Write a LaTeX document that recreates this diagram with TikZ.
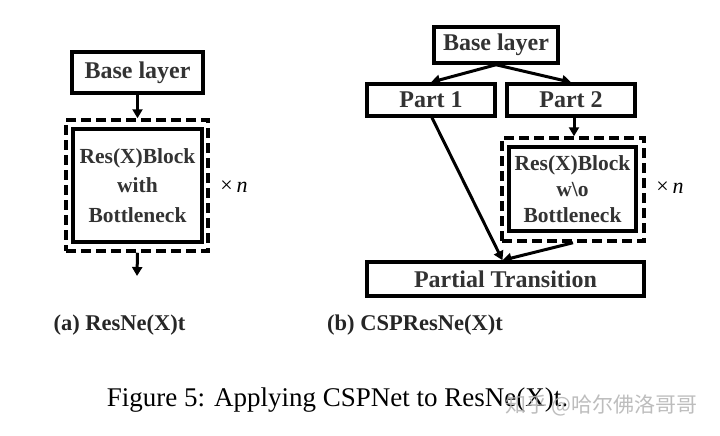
\documentclass[tikz,border=0pt]{standalone}
\usepackage{fontspec}
\setmainfont{Liberation Serif}
\newfontfamily\cjk{Noto Sans CJK SC}
\usetikzlibrary{arrows.meta,calc}
\tikzset{
 box/.style={draw=black, line width=3.5pt, inner sep=0pt, text=black!80, font=\bfseries\fontsize{24}{28}\selectfont},
 blockl/.style={box, align=center, font=\bfseries\fontsize{21.5}{29.5}\selectfont},
 blockr/.style={box, align=center, font=\bfseries\fontsize{21.5}{26}\selectfont},
 rep/.style={draw=black, line width=3.5pt, dash pattern=on 10pt off 5pt, inner sep=0pt},
 arr/.style={line width=3pt, -{Triangle[length=9pt,width=10pt]}},
 timesn/.style={font=\fontsize{22}{26}\selectfont, inner sep=0pt},
 sublabel/.style={font=\bfseries\fontsize{22.5}{26}\selectfont, text=black!85, inner sep=0pt},
 caption/.style={font=\fontsize{27}{30}\selectfont, inner sep=0pt},
 wmark/.style={font=\cjk\fontsize{21}{24}\selectfont, text=black!30, opacity=0.85, inner sep=0pt, anchor=west},
}
\begin{document}
\begin{tikzpicture}[x=1pt,y=-1pt]
\useasboundingbox[fill=white] (0,0) rectangle (720,436);
% (a)
\node[box, minimum width=131pt, minimum height=41pt] (lbase) at (137.5,72.5) {Base layer};
\node[rep, minimum width=142pt, minimum height=131pt] (ldash) at (137,185.5) {};
\node[blockl, minimum width=129pt, minimum height=113pt] (lblock) at (137.5,185.5) {Res(X)Block\\with\\Bottleneck};
\node[timesn] (ln) at (234,187) {×\,\itshape n};
\coordinate (lout) at (137,276);
\draw[arr] (lbase.south) -- (lbase.south |- ldash.north);
\draw[arr] (ldash.south -| lbase.south) -- (lout);
\node[sublabel] (la) at (119.5,325) {(a) ResNe(X)t};
% (b)
\node[box, minimum width=124pt, minimum height=36pt] (rbase) at (496,45) {Base layer};
\node[box, minimum width=128pt, minimum height=32pt] (p1) at (431,100) {Part 1};
\node[box, minimum width=128pt, minimum height=32pt] (p2) at (571,100) {Part 2};
\node[rep, minimum width=142pt, minimum height=103pt] (rdash) at (573,189.5) {};
\node[blockr, minimum width=127pt, minimum height=84pt] (rblock) at (572.5,189) {Res(X)Block\\w\textbackslash o\\Bottleneck};
\node[timesn] (rn) at (670,188) {×\,\itshape n};
\node[box, minimum width=277pt, minimum height=34pt] (pt) at (505.5,279) {Partial Transition};
\coordinate (merge) at ($(pt.north)+(-3,0)$);
\draw[arr] (rbase.south) -- (p1.north);
\draw[arr] (rbase.south) -- (p2.north);
\draw[arr] ($(p2.south)+(3,0)$) -- ($(p2.south |- rdash.north)+(3,0)$);
\draw[arr] ($(p1.south)+(1,0)$) -- (merge);
\draw[arr] (rdash.south) -- (merge);
\node[sublabel] (lb) at (415,325) {(b) CSPResNe(X)t};
% caption
\node[caption] (cap) at (337.5,400) {Figure 5: Applying CSPNet to ResNe(X)t.};
\node[wmark] (wm) at (505,405) {知乎 @哈尔佛洛哥哥};
\end{tikzpicture}
\end{document}
